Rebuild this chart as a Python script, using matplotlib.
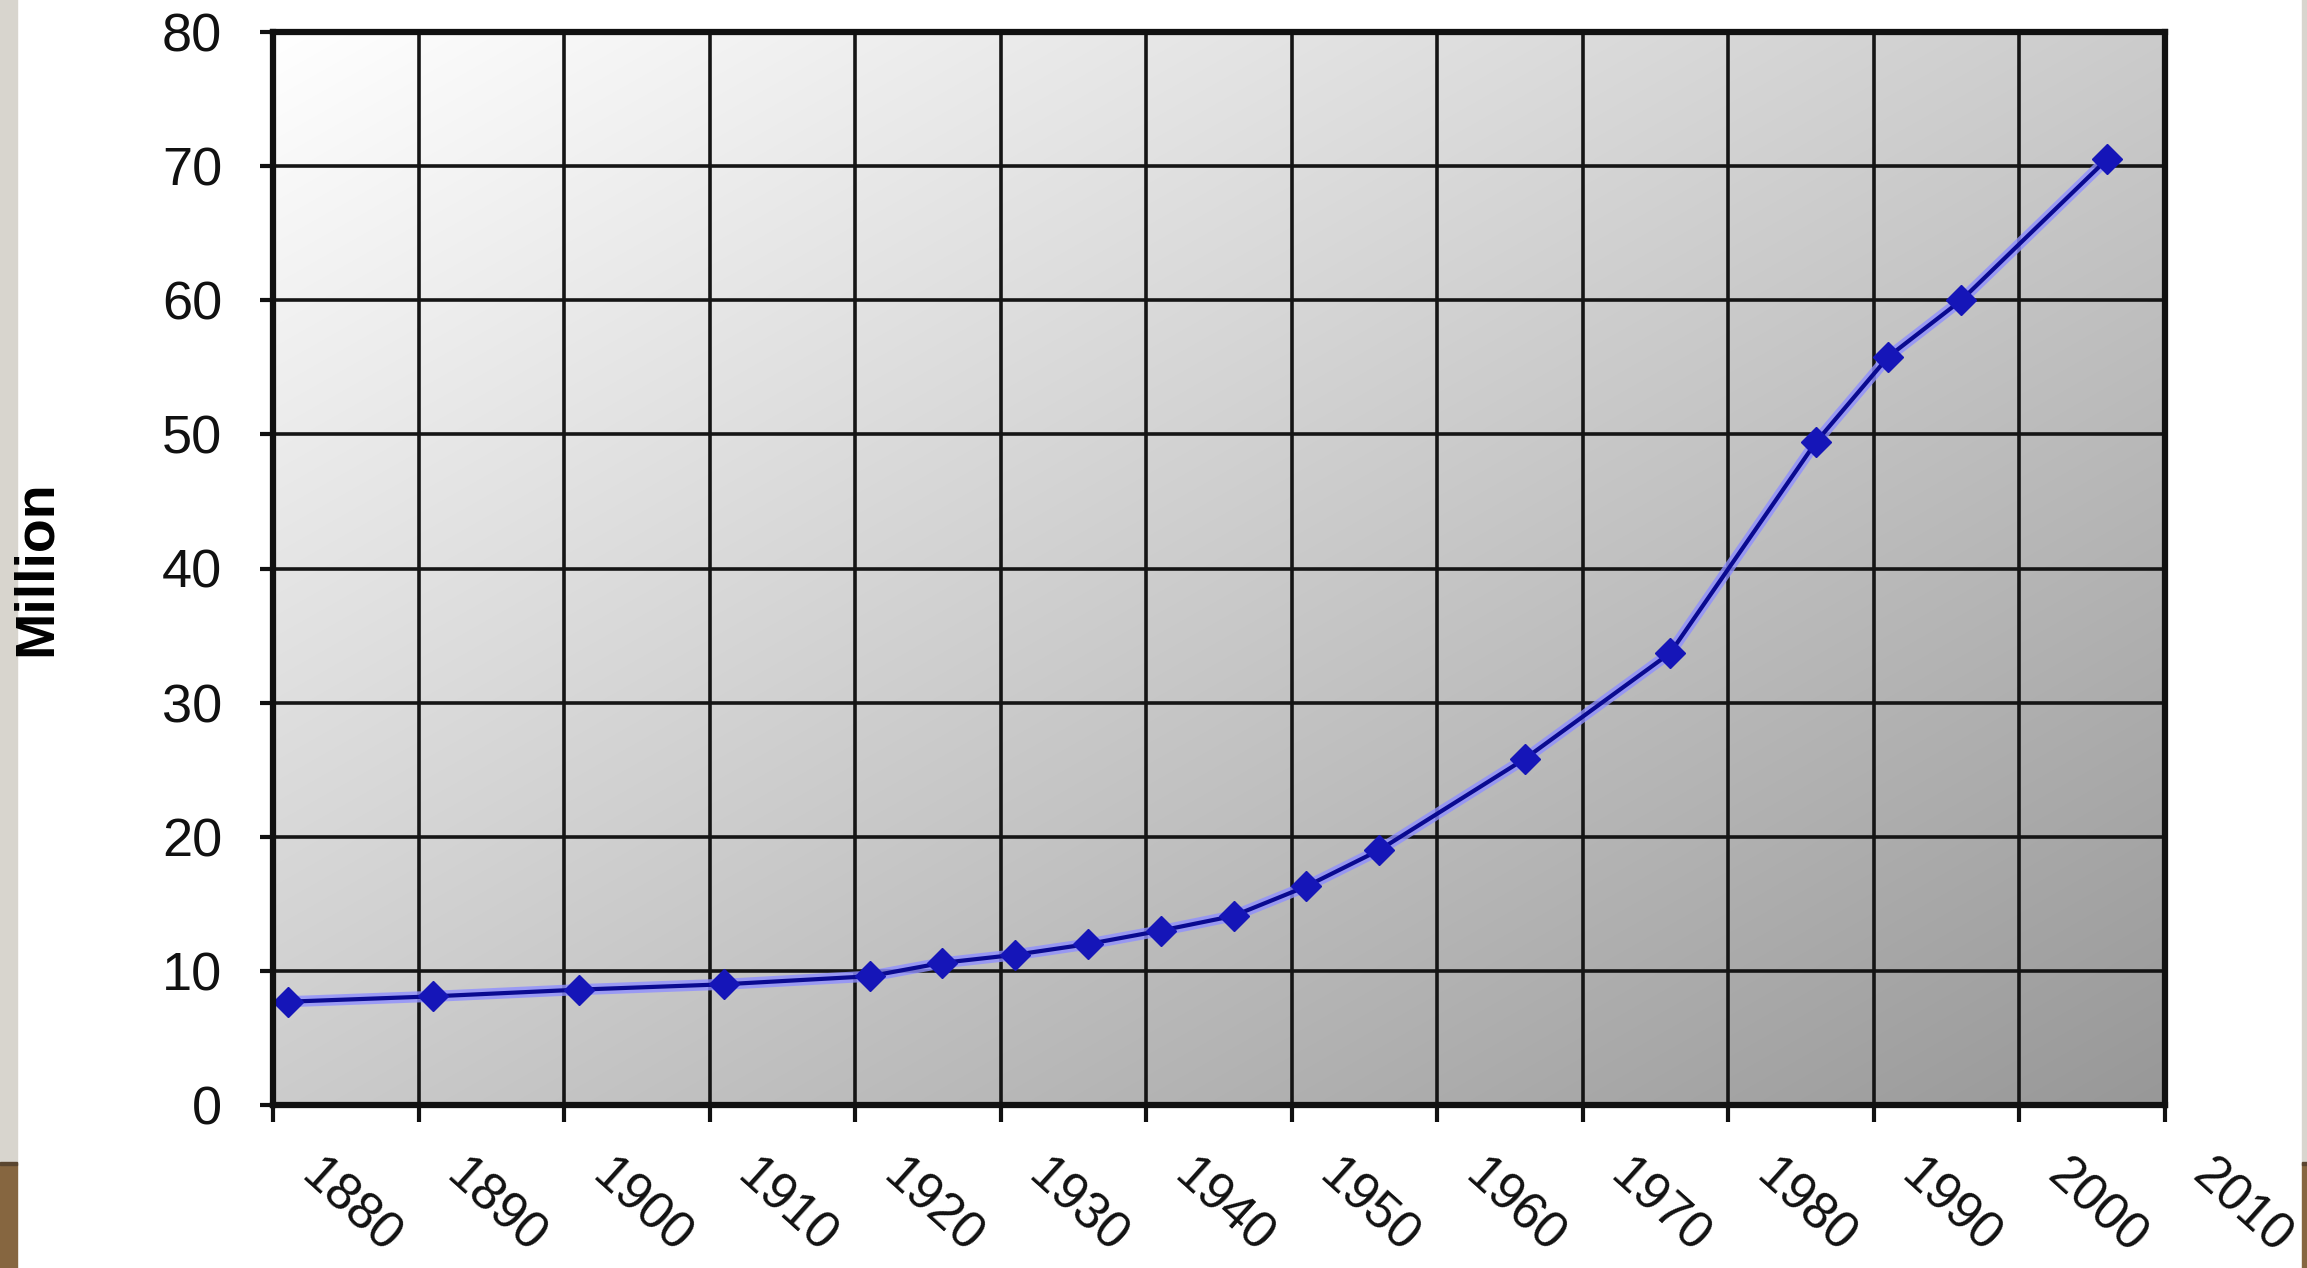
import numpy as np
import matplotlib
matplotlib.use("Agg")
import matplotlib.pyplot as plt
from matplotlib.patches import Rectangle
from matplotlib.transforms import ScaledTranslation

plt.rcParams['font.family'] = ['Liberation Sans', 'DejaVu Sans']

# census years and population (million)
years = [1881, 1891, 1901, 1911, 1921, 1926, 1931, 1936, 1941, 1946,
         1951, 1956, 1966, 1976, 1986, 1991, 1996, 2006]
population = [7.7, 8.1, 8.6, 9.0, 9.6, 10.6, 11.2, 12.0, 13.0, 14.1,
              16.3, 19.0, 25.8, 33.7, 49.4, 55.8, 60.0, 70.5]
xticks = list(range(1880, 2011, 10))
yticks = list(range(0, 81, 10))

W, H = 2307, 1268
fig = plt.figure(figsize=(W / 100, H / 100), dpi=100, facecolor="white")
ax = fig.add_axes([273 / W, 1 - 1105 / H, (2165 - 273) / W, (1105 - 32) / H])

# slide frame decoration: grey strips at the sides, wooden floor at the bottom
for x0, w in ((0, 17), (2302, 5)):
    fig.add_artist(Rectangle((x0 / W, 105 / H), w / W, 1,
                             transform=fig.transFigure, color="#d8d5ce", zorder=-5))
    fig.add_artist(Rectangle((x0 / W, 0), w / W, 105 / H,
                             transform=fig.transFigure, color="#866640", zorder=-5))
    fig.add_artist(Rectangle((x0 / W, 103 / H), w / W, 3 / H,
                             transform=fig.transFigure, color="#5a4630", zorder=-4))

# diagonal white -> grey gradient behind the plot
gx, gy = np.meshgrid(np.linspace(0, 1, 300), np.linspace(0, 1, 200))
val = (255 - 103 * (gx + (1 - gy)) / 2) / 255
rgb = np.dstack([val, val, val])
ax.imshow(rgb, origin="lower", extent=[0, 1, 0, 1], transform=ax.transAxes,
          aspect="auto", zorder=0, interpolation="bilinear")

ax.plot(years, population, color="#8f8fff", lw=8, alpha=0.8, zorder=3,
        solid_capstyle="round", solid_joinstyle="round")
ax.plot(years, population, color="#0a0a90", lw=3.0, zorder=4,
        marker="D", markersize=15, markerfacecolor="#1515b8",
        markeredgecolor="#1515b8")

ax.set_xlim(1880, 2010)
ax.set_ylim(0, 80)
ax.set_xticks(xticks)
ax.set_yticks(yticks)
ax.set_axisbelow(True)
ax.grid(True, color="#151515", lw=2.6)
for s in ax.spines.values():
    s.set_linewidth(4.5)
    s.set_color("#111111")
    s.set_zorder(5)

ax.tick_params(axis="y", length=9.5, width=3, pad=27, labelsize=39,
               colors="#111111")
ax.tick_params(axis="x", length=12, width=3, pad=34, labelsize=37,
               colors="#111111")
ax.set_xticklabels([str(t) for t in xticks], rotation=-42, ha="left",
                   va="center", rotation_mode="anchor")
shift = ScaledTranslation(0.34, 0, fig.dpi_scale_trans)
for lab in ax.get_xticklabels():
    lab.set_transform(lab.get_transform() + shift)

ax.set_ylabel("Million", fontsize=40, fontweight="bold")
ax.yaxis.set_label_coords(-0.111, 0.5)

fig.savefig("out.png", dpi=100)
